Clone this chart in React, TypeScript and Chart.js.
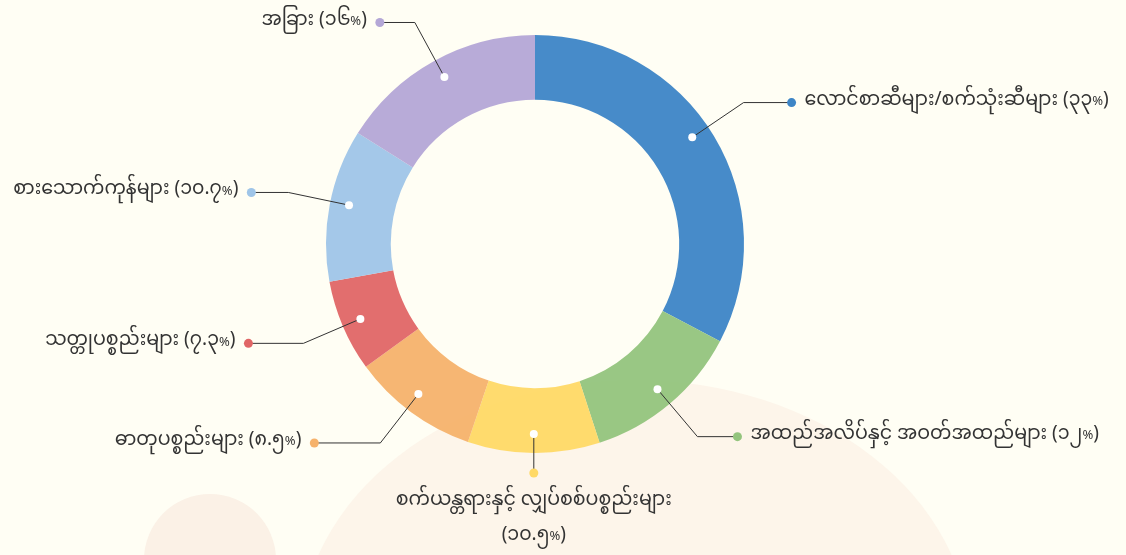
import { useEffect, useRef } from "react";
import { Chart, registerables } from "chart.js";

Chart.register(...registerables);

const categories = [
  "လောင်စာဆီများ/စက်သုံးဆီများ",
  "အထည်အလိပ်နှင့် အဝတ်အထည်များ",
  "စက်ယန္တရားနှင့် လျှပ်စစ်ပစ္စည်းများ",
  "ဓာတုပစ္စည်းများ",
  "သတ္တုပစ္စည်းများ",
  "စားသောက်ကုန်များ",
  "အခြား",
];
// slice sizes as drawn in the picture (percent of the ring)
const sliceValues = [32.7, 12.3, 10.2, 9.8, 7.1, 11.8, 16.1];
// percentages as printed in the labels
const shareLabels = ["၃၃", "၁၂", "၁၀.၅", "၈.၅", "၇.၃", "၁၀.၇", "၁၆"];
const sliceColors = ["#3d85c6", "#93c47d", "#ffd966", "#f6b26b", "#e06666", "#9fc5e8", "#b4a7d6"];

// label styling: leader horizontal lengths (-1 = drop straight down, text below), angle nudges (deg)
const leaderLengths = [48, 40, -1, 66, 55, 37, 35];
const leaderAngleNudge = [-3, 0, 0, 1.5, 0, 1, 0.5];

const FAMILY = "'Noto Sans Myanmar', 'Padauk', 'Myanmar Text', 'Noto Sans', sans-serif";
const FONT = `19px ${FAMILY}`;
const FONT_SMALL = `13px ${FAMILY}`;

function drawLabel(ctx: CanvasRenderingContext2D, parts: { t: string; f: string; dy: number }[], x: number, y: number, align: string) {
  let total = 0;
  const widths = parts.map((p) => {
    ctx.font = p.f;
    const w = ctx.measureText(p.t).width;
    total += w;
    return w;
  });
  let sx = x;
  if (align === "right") sx = x - total;
  else if (align === "center") sx = x - total / 2;
  ctx.textAlign = "left";
  parts.forEach((p, k) => {
    ctx.font = p.f;
    ctx.fillText(p.t, sx, y + p.dy);
    sx += widths[k];
  });
}

const backgroundPlugin = {
  id: "bgShapes",
  beforeDraw(chart: any) {
    const ctx = chart.ctx;
    ctx.save();
    ctx.fillStyle = "#fffef4";
    ctx.fillRect(0, 0, chart.width, chart.height);
    ctx.fillStyle = "#fdf5ea";
    ctx.beginPath();
    ctx.ellipse(635, 640, 335, 260, 0, 0, Math.PI * 2);
    ctx.fill();
    ctx.fillStyle = "#fbf1e6";
    ctx.beginPath();
    ctx.arc(210, 560, 66, 0, Math.PI * 2);
    ctx.fill();
    ctx.restore();
  },
};

const labelPlugin = {
  id: "outLabels",
  afterDatasetsDraw(chart: any) {
    const ctx = chart.ctx;
    const meta = chart.getDatasetMeta(0);
    ctx.save();
    ctx.textBaseline = "middle";
    meta.data.forEach((arc: any, i: number) => {
      const p = arc.getProps(["x", "y", "startAngle", "endAngle", "outerRadius", "innerRadius"], true);
      const mid = (p.startAngle + p.endAngle) / 2 + (leaderAngleNudge[i] * Math.PI) / 180;
      const cos = Math.cos(mid);
      const sin = Math.sin(mid);
      const rDot = p.outerRadius - 19;
      const dx = p.x + cos * rDot;
      const dy = p.y + sin * rDot;
      const len = leaderLengths[i];
      ctx.strokeStyle = "#333333";
      ctx.lineWidth = 1;
      let cx: number, cy: number;
      if (len < 0) {
        cx = dx;
        cy = p.y + p.outerRadius + 20;
        ctx.beginPath();
        ctx.moveTo(dx, dy);
        ctx.lineTo(cx, cy);
        ctx.stroke();
      } else {
        const rEl = p.outerRadius + 43;
        const ex = p.x + cos * rEl;
        const ey = p.y + sin * rEl;
        const side = cos >= 0 ? 1 : -1;
        cx = ex + side * len;
        cy = ey;
        ctx.beginPath();
        ctx.moveTo(dx, dy);
        ctx.lineTo(ex, ey);
        ctx.lineTo(cx, cy);
        ctx.stroke();
      }
      ctx.fillStyle = "#ffffff";
      ctx.beginPath();
      ctx.arc(dx, dy, 4, 0, Math.PI * 2);
      ctx.fill();
      ctx.fillStyle = sliceColors[i];
      ctx.beginPath();
      ctx.arc(cx, cy, 4.5, 0, Math.PI * 2);
      ctx.fill();
      ctx.fillStyle = "#333333";
      const pct = [
        { t: `(${shareLabels[i]}`, f: FONT, dy: 0 },
        { t: "%", f: FONT_SMALL, dy: 1 },
        { t: ")", f: FONT, dy: 0 },
      ];
      if (len < 0) {
        ctx.font = FONT;
        ctx.textAlign = "center";
        ctx.fillText(categories[i], cx, cy + 30);
        drawLabel(ctx, pct, cx, cy + 65, "center");
      } else {
        const parts = [{ t: `${categories[i]} `, f: FONT, dy: 0 }, ...pct];
        if (cos >= 0) drawLabel(ctx, parts, cx + 13, cy, "left");
        else drawLabel(ctx, parts, cx - 13, cy, "right");
      }
    });
    ctx.restore();
  },
};

export default function App() {
  const ref = useRef<HTMLCanvasElement | null>(null);
  useEffect(() => {
    if (!ref.current) return;
    const chart = new Chart(ref.current, {
      type: "doughnut",
      data: {
        labels: categories,
        datasets: [
          {
            data: sliceValues,
            backgroundColor: sliceColors.map((c) => c + "f2"),
            borderWidth: 0,
          },
        ],
      },
      options: {
        responsive: false,
        animation: false,
        cutout: "69%",
        layout: { padding: { top: 35, bottom: 102, left: 326, right: 382 } },
        plugins: { legend: { display: false }, tooltip: { enabled: false } },
      },
      plugins: [backgroundPlugin, labelPlugin],
    });
    return () => chart.destroy();
  }, []);
  return (
    <div style={{ position: "fixed", left: 0, top: 0, width: 1126, height: 555, background: "#fffef4" }}>
      <canvas ref={ref} width={1126} height={555} />
    </div>
  );
}
